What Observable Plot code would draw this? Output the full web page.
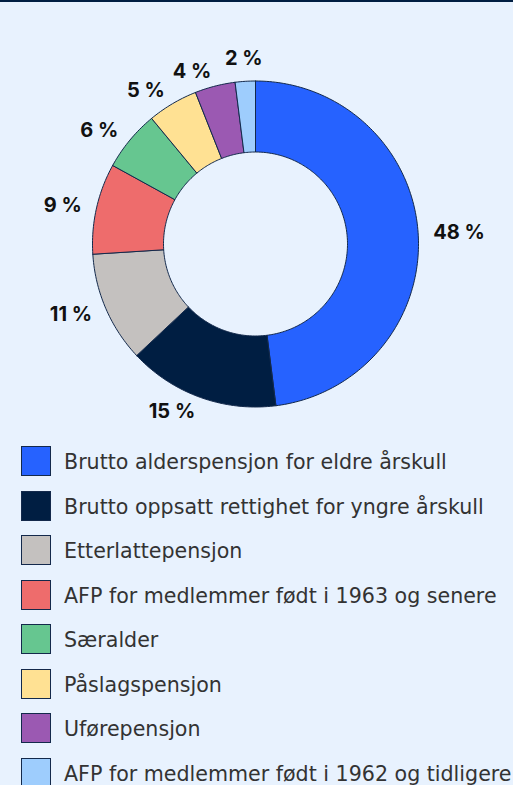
<!DOCTYPE html>
<html>
<head>
<meta charset="utf-8">
<script src="https://cdn.jsdelivr.net/npm/d3@7"></script>
<script src="https://cdn.jsdelivr.net/npm/@observablehq/plot@0.6"></script>
<style>
  html, body { margin: 0; padding: 0; }
  body { width: 513px; height: 785px; overflow: hidden; background: #e8f2fe; font-family: "DejaVu Sans", sans-serif; }
  #wrap { border-top: 2px solid #001e42; box-sizing: border-box; width: 513px; height: 785px; }
  #legend { margin: 0; padding: 0; }
  .row { display: flex; align-items: center; height: 30px; margin-bottom: 14.5px; }
  .sw { width: 28px; height: 28px; border: 1.2px solid #13294b; margin-left: 21px; flex: none; }
  .lab { margin-left: 13px; font-size: 20.6px; color: #333; white-space: nowrap; position: relative; top: 1px; }
</style>
</head>
<body>
<div id="wrap">
  <div id="chart"></div>
  <div id="legend"></div>
</div>
<script>
const categories = [
  "Brutto alderspensjon for eldre årskull",
  "Brutto oppsatt rettighet for yngre årskull",
  "Etterlattepensjon",
  "AFP for medlemmer født i 1963 og senere",
  "Særalder",
  "Påslagspensjon",
  "Uførepensjon",
  "AFP for medlemmer født i 1962 og tidligere"
];
const shares = [48, 15, 11, 9, 6, 5, 4, 2];
const labels = ["48 %", "15 %", "11 %", "9 %", "6 %", "5 %", "4 %", "2 %"];
const colors = ["#2662ff", "#001e42", "#c4c1bf", "#ee6c6c", "#66c690", "#ffe193", "#9b59b2", "#9ecdfd"];

const W = 513, H = 444;
const cx = 255, cy = 241.5;
const rOuter = 163, rInner = 92, labelDist = 15;

const pie = d3.pie().sort(null).value(d => d)(shares);

const poly = [];
const textPts = [];
pie.forEach((p, i) => {
  const a0 = p.startAngle, a1 = p.endAngle;
  const n = Math.max(2, Math.ceil((a1 - a0) / (Math.PI / 180)));
  const pts = [];
  for (let k = 0; k <= n; k++) {
    const a = a0 + (a1 - a0) * k / n;
    pts.push([rOuter * Math.sin(a), rOuter * Math.cos(a)]);
  }
  for (let k = n; k >= 0; k--) {
    const a = a0 + (a1 - a0) * k / n;
    pts.push([rInner * Math.sin(a), rInner * Math.cos(a)]);
  }
  pts.push(pts[0]);
  pts.forEach(([x, y]) => poly.push({x, y, name: categories[i], color: colors[i]}));
  const m = (a0 + a1) / 2;
  const s = Math.sin(m), c = Math.cos(m);
  let anchor, r;
  if (Math.abs(s) < 0.2) { anchor = "middle"; r = rOuter + labelDist + 8 * Math.abs(c); }
  else { anchor = s < 0 ? "end" : "start"; r = rOuter + labelDist; }
  textPts.push({x: r * s, y: r * c, label: labels[i], anchor});
});

const textOpts = {x: "x", y: "y", text: "label", fontSize: 20, fontWeight: 700, fill: "#111", fontFamily: "Inter, sans-serif"};

const chart = Plot.plot({
  width: W,
  height: H,
  margin: 0,
  x: {domain: [-cx, W - cx], axis: null},
  y: {domain: [-(H - cy), cy], axis: null},
  style: {background: "transparent", overflow: "visible"},
  marks: [
    Plot.line(poly, {x: "x", y: "y", z: "name", fill: "color", stroke: "#13294b", strokeWidth: 1, curve: "linear"}),
    Plot.text(textPts.filter(d => d.anchor === "start"), {...textOpts, textAnchor: "start"}),
    Plot.text(textPts.filter(d => d.anchor === "end"), {...textOpts, textAnchor: "end"}),
    Plot.text(textPts.filter(d => d.anchor === "middle"), {...textOpts, textAnchor: "middle"})
  ]
});
document.getElementById("chart").appendChild(chart);

const legend = document.getElementById("legend");
categories.forEach((c, i) => {
  const row = document.createElement("div");
  row.className = "row";
  const sw = document.createElement("div");
  sw.className = "sw";
  sw.style.background = colors[i];
  const lab = document.createElement("div");
  lab.className = "lab";
  lab.textContent = c;
  row.appendChild(sw);
  row.appendChild(lab);
  legend.appendChild(row);
});
</script>
</body>
</html>
